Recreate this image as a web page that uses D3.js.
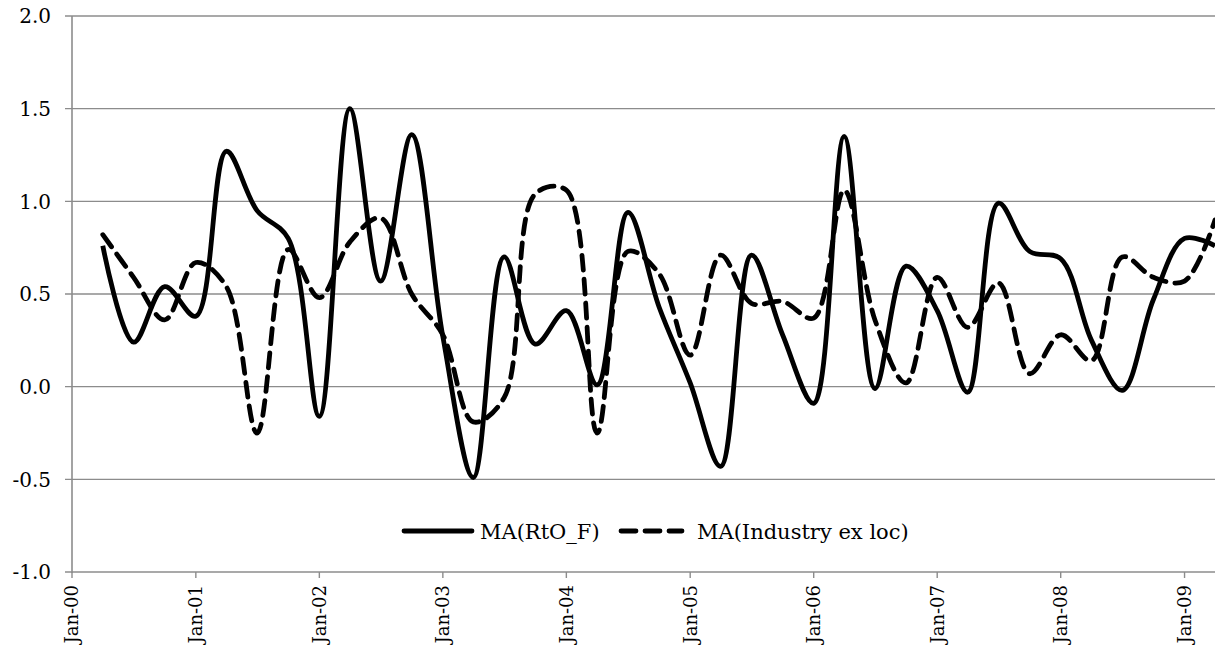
<!DOCTYPE html>
<html>
<head>
<meta charset="utf-8">
<script src="https://cdn.jsdelivr.net/npm/d3@7"></script>
<style>
  html, body { margin: 0; padding: 0; background: #fff; }
  svg { display: block; }
  text { font-family: "DejaVu Serif", serif; fill: #000; }
</style>
</head>
<body>
<svg id="chart" width="1215" height="660"></svg>
<script>
const width = 1215;
const height = 660;
const margin = { top: 16, right: 0, bottom: 88, left: 72 };

// quarterly observations, Apr-00 .. Apr-09
const quarters = [
  "2000-04", "2000-07", "2000-10", "2001-01", "2001-04", "2001-07", "2001-10",
  "2002-01", "2002-04", "2002-07", "2002-10", "2003-01", "2003-04", "2003-07",
  "2003-10", "2004-01", "2004-04", "2004-07", "2004-10", "2005-01", "2005-04",
  "2005-07", "2005-10", "2006-01", "2006-04", "2006-07", "2006-10", "2007-01",
  "2007-04", "2007-07", "2007-10", "2008-01", "2008-04", "2008-07", "2008-10",
  "2009-01", "2009-04"
];
const rtoF = [
  0.76, 0.24, 0.54, 0.38, 1.27, 0.95, 0.80, -0.16, 1.50, 0.57, 1.36, 0.27,
  -0.49, 0.70, 0.23, 0.41, 0.01, 0.94, 0.43, 0.02, -0.43, 0.71, 0.28, -0.09,
  1.35, -0.01, 0.65, 0.41, -0.03, 0.99, 0.73, 0.69, 0.25, -0.02, 0.47, 0.80, 0.76
];
const industryExLoc = [
  0.82, 0.59, 0.36, 0.67, 0.54, -0.25, 0.74, 0.48, 0.78, 0.91, 0.50, 0.28,
  -0.19, -0.06, 1.04, 1.06, -0.25, 0.73, 0.61, 0.17, 0.71, 0.45, 0.46, 0.37,
  1.06, 0.36, 0.02, 0.59, 0.32, 0.56, 0.07, 0.28, 0.14, 0.70, 0.59, 0.57, 0.90
];
const seriesNames = ["MA(RtO_F)", "MA(Industry ex loc)"];
const yTicks = [-1.0, -0.5, 0.0, 0.5, 1.0, 1.5, 2.0];
const xTickLabels = ["Jan-00", "Jan-01", "Jan-02", "Jan-03", "Jan-04",
                     "Jan-05", "Jan-06", "Jan-07", "Jan-08", "Jan-09"];

const parseMonth = d3.timeParse("%Y-%m");
const parseTick = d3.timeParse("%b-%y");
const dates = quarters.map(parseMonth);

const svg = d3.select("#chart");

const x = d3.scaleTime()
  .domain([new Date(2000, 0, 1), new Date(2009, 3, 1)])
  .range([margin.left, width - margin.right]);

const y = d3.scaleLinear()
  .domain([-1, 2])
  .range([height - margin.bottom, margin.top]);

const gridColor = "#8c8c8c";
const fmt = d => d3.format(".1f")(d).replace("\u2212", "-");

// horizontal gridlines (with short tick stubs left of the axis)
svg.append("g")
  .selectAll("line")
  .data(yTicks)
  .enter()
  .append("line")
  .attr("x1", margin.left - 7)
  .attr("x2", width)
  .attr("y1", d => y(d))
  .attr("y2", d => y(d))
  .attr("stroke", gridColor)
  .attr("stroke-width", 1.4);

// y labels
svg.append("g")
  .selectAll("text")
  .data(yTicks)
  .enter()
  .append("text")
  .attr("x", margin.left - 21)
  .attr("y", d => y(d))
  .attr("dy", "0.36em")
  .attr("text-anchor", "end")
  .style("font-size", "20px")
  .text(fmt);

// vertical axis line
svg.append("line")
  .attr("x1", margin.left)
  .attr("x2", margin.left)
  .attr("y1", y(2))
  .attr("y2", y(-1) + 1)
  .attr("stroke", gridColor)
  .attr("stroke-width", 1.6);

// x ticks and rotated labels
const xt = svg.append("g")
  .selectAll("g")
  .data(xTickLabels)
  .enter()
  .append("g")
  .attr("transform", d => `translate(${x(parseTick(d))}, ${y(-1)})`);

xt.append("line")
  .attr("y1", 0)
  .attr("y2", 6)
  .attr("stroke", gridColor)
  .attr("stroke-width", 1.4);

xt.append("text")
  .attr("transform", "translate(0, 13) rotate(-90)")
  .attr("text-anchor", "end")
  .attr("dy", "0.36em")
  .style("font-size", "18px")
  .text(d => d);

// lines
const line = d3.line()
  .x((d, i) => x(dates[i]))
  .y(d => y(d))
  .curve(d3.curveCatmullRom.alpha(0.5));

svg.append("path")
  .datum(industryExLoc)
  .attr("d", line)
  .attr("fill", "none")
  .attr("stroke", "#000")
  .attr("stroke-width", 4.8)
  .attr("stroke-dasharray", "15,9")
  .attr("stroke-linecap", "round");

svg.append("path")
  .datum(rtoF)
  .attr("d", line)
  .attr("fill", "none")
  .attr("stroke", "#000")
  .attr("stroke-width", 4.8)
  .attr("stroke-linejoin", "round");

// legend
const legendY = 531;
const legendItems = [
  { name: seriesNames[0], x0: 404, x1: 472, tx: 480, dash: null },
  { name: seriesNames[1], x0: 621, x1: 682, tx: 697, dash: "15,9" }
];
const leg = svg.append("g")
  .selectAll("g")
  .data(legendItems)
  .enter()
  .append("g");

leg.append("line")
  .attr("x1", d => d.x0)
  .attr("x2", d => d.x1)
  .attr("y1", legendY)
  .attr("y2", legendY)
  .attr("stroke", "#000")
  .attr("stroke-width", 4.8)
  .attr("stroke-linecap", "round")
  .attr("stroke-dasharray", d => d.dash);

leg.append("text")
  .attr("x", d => d.tx)
  .attr("y", legendY)
  .attr("dy", "0.36em")
  .style("font-size", "21px")
  .text(d => d.name);
</script>
</body>
</html>
